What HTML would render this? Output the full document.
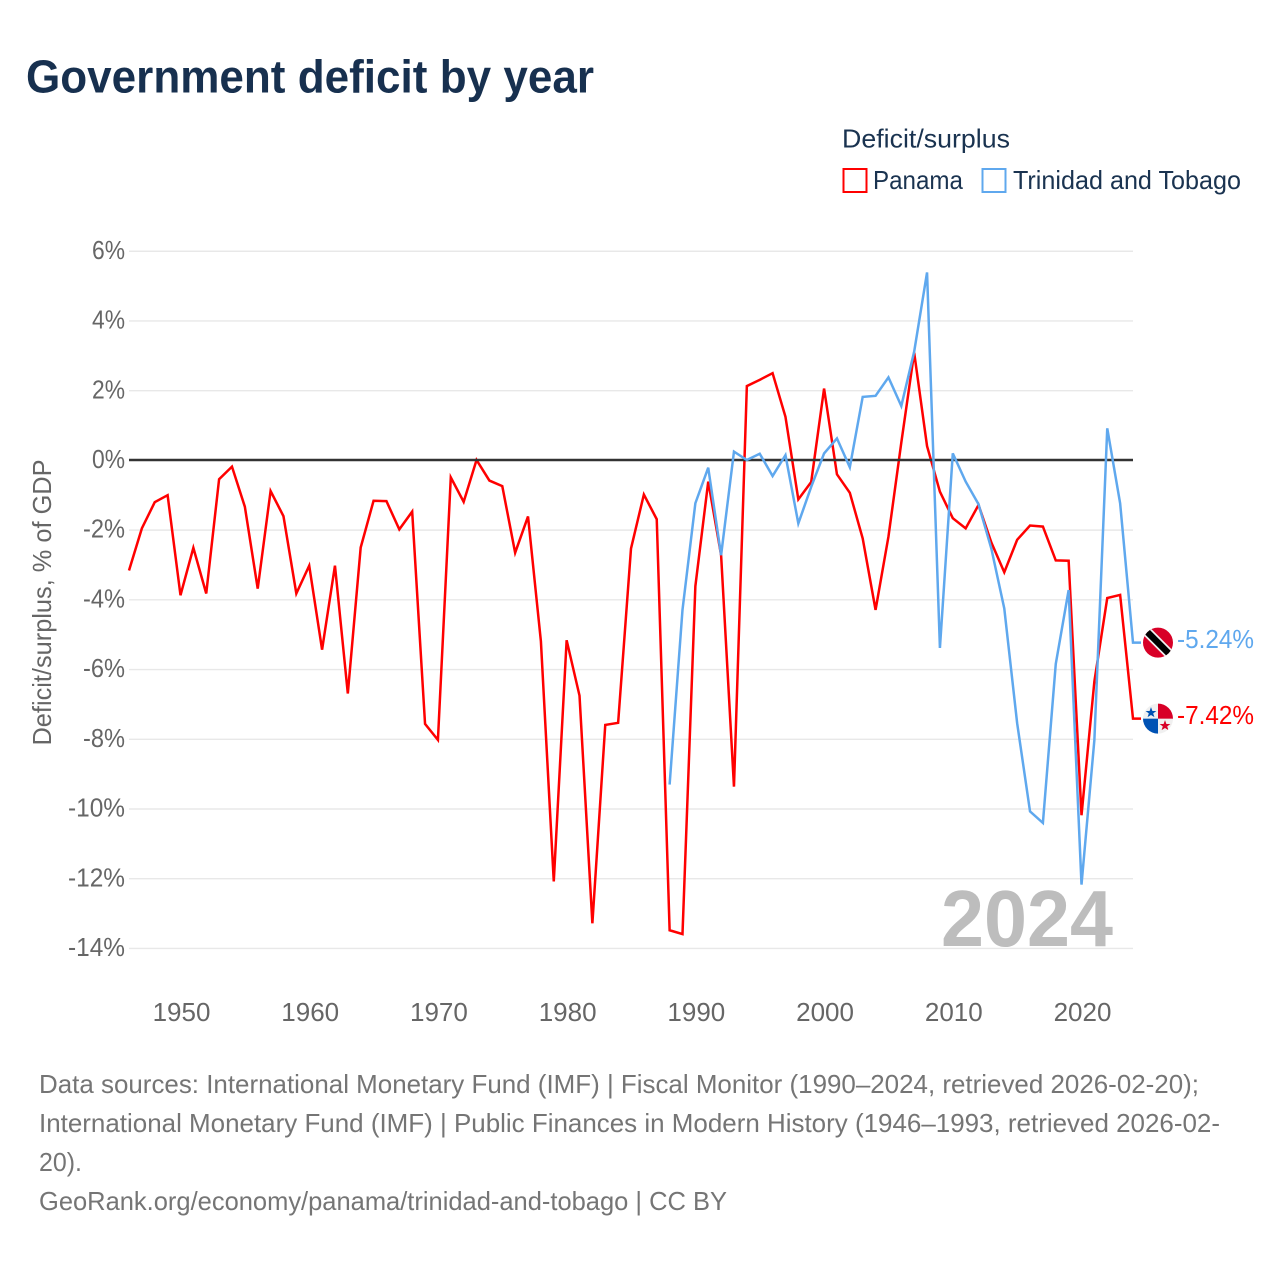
<!DOCTYPE html>
<html lang="en">
<head>
<meta charset="utf-8">
<title>Government deficit by year</title>
<style>
  html, body { margin: 0; padding: 0; background: #fff; }
  svg { display: block; font-family: "Liberation Sans", sans-serif; }
</style>
</head>
<body>
<svg id="chart" xmlns="http://www.w3.org/2000/svg" width="1280" height="1280" viewBox="0 0 1280 1280">
  <rect x="0" y="0" width="1280" height="1280" fill="#ffffff"/>
  <text x="26" y="92.5" font-size="46" font-weight="700" fill="#17304f" textLength="568" lengthAdjust="spacingAndGlyphs">Government deficit by year</text>

  <g>
    <text x="842" y="147.5" font-size="26" fill="#1a3350" textLength="168" lengthAdjust="spacingAndGlyphs">Deficit/surplus</text>
    <rect x="843.5" y="169" width="23" height="23" fill="#ffffff" stroke="#ff0000" stroke-width="2"/>
    <text x="873" y="189" font-size="26" fill="#1a3350" textLength="90" lengthAdjust="spacingAndGlyphs">Panama</text>
    <rect x="982.5" y="169" width="23" height="23" fill="#ffffff" stroke="#5fa8ee" stroke-width="2"/>
    <text x="1013" y="189" font-size="26" fill="#1a3350" textLength="228" lengthAdjust="spacingAndGlyphs">Trinidad and Tobago</text>
  </g>

  <text transform="translate(51 602.5) rotate(-90)" text-anchor="middle" font-size="26" fill="#666666" textLength="286" lengthAdjust="spacingAndGlyphs">Deficit/surplus, % of GDP</text>

  <g id="grid"></g>
  <g id="y-ticks"></g>
  <g id="x-ticks"></g>

  <text x="941" y="946" font-size="80" font-weight="700" fill="#bdbdbd" textLength="172" lengthAdjust="spacingAndGlyphs">2024</text>

  <g id="series"></g>

  <g id="flag-tt">
    <defs>
      <clipPath id="clip-tt"><circle cx="0" cy="0" r="15"/></clipPath>
      <clipPath id="clip-pa"><circle cx="0" cy="0" r="15"/></clipPath>
    </defs>
    <g clip-path="url(#clip-tt)">
      <rect x="-16" y="-16" width="32" height="32" fill="#d80027"/>
      <line x1="-14" y1="-14" x2="14" y2="14" stroke="#f0f0f0" stroke-width="10"/>
      <line x1="-14" y1="-14" x2="14" y2="14" stroke="#000000" stroke-width="6.5"/>
    </g>
  </g>
  <g id="flag-pa">
    <g clip-path="url(#clip-pa)">
      <rect x="-16" y="-16" width="32" height="32" fill="#f0f0f0"/>
      <rect x="0" y="-16" width="16" height="16" fill="#d80027"/>
      <rect x="-16" y="0" width="16" height="16" fill="#0052b4"/>
      <polygon points="-7,-11 -5.6,-7.2 -1.6,-7.2 -4.8,-4.8 -3.6,-1 -7,-3.2 -10.4,-1 -9.2,-4.8 -12.4,-7.2 -8.4,-7.2" fill="#0052b4" transform="translate(0 -0.5)"/>
      <polygon points="7,1.5 8.4,5.3 12.4,5.3 9.2,7.7 10.4,11.5 7,9.3 3.6,11.5 4.8,7.7 1.6,5.3 5.6,5.3" fill="#d80027"/>
    </g>
  </g>
  <g id="end-labels"></g>

  <g font-size="26" fill="#757575">
    <text x="39" y="1093" textLength="1160" lengthAdjust="spacingAndGlyphs">Data sources: International Monetary Fund (IMF) | Fiscal Monitor (1990–2024, retrieved 2026-02-20);</text>
    <text x="39" y="1132" textLength="1181" lengthAdjust="spacingAndGlyphs">International Monetary Fund (IMF) | Public Finances in Modern History (1946–1993, retrieved 2026-02-</text>
    <text x="39" y="1171" textLength="43" lengthAdjust="spacingAndGlyphs">20).</text>
    <text x="39" y="1210" textLength="688" lengthAdjust="spacingAndGlyphs">GeoRank.org/economy/panama/trinidad-and-tobago | CC BY</text>
  </g>
</svg>

<script>
const panamaYears = [1946,1947,1948,1949,1950,1951,1952,1953,1954,1955,1956,1957,1958,1959,1960,1961,1962,1963,1964,1965,1966,1967,1968,1969,1970,1971,1972,1973,1974,1975,1976,1977,1978,1979,1980,1981,1982,1983,1984,1985,1986,1987,1988,1989,1990,1991,1992,1993,1994,1995,1996,1997,1998,1999,2000,2001,2002,2003,2004,2005,2006,2007,2008,2009,2010,2011,2012,2013,2014,2015,2016,2017,2018,2019,2020,2021,2022,2023,2024];
const panamaValues = [-3.17,-1.96,-1.21,-1.01,-3.88,-2.52,-3.83,-0.55,-0.19,-1.34,-3.69,-0.89,-1.61,-3.83,-3.03,-5.44,-3.03,-6.70,-2.51,-1.17,-1.18,-1.99,-1.48,-7.57,-8.03,-0.50,-1.20,0.00,-0.59,-0.75,-2.66,-1.62,-5.20,-12.09,-5.17,-6.76,-13.29,-7.60,-7.54,-2.54,-0.99,-1.70,-13.49,-13.60,-3.62,-0.62,-2.73,-9.37,2.12,2.30,2.49,1.24,-1.13,-0.63,2.05,-0.41,-0.94,-2.25,-4.30,-2.20,0.50,3.08,0.40,-0.91,-1.67,-1.96,-1.29,-2.37,-3.22,-2.29,-1.88,-1.91,-2.88,-2.89,-10.19,-6.35,-3.96,-3.87,-7.42];
const trinidadYears = [1988,1989,1990,1991,1992,1993,1994,1995,1996,1997,1998,1999,2000,2001,2002,2003,2004,2005,2006,2007,2008,2009,2010,2011,2012,2013,2014,2015,2016,2017,2018,2019,2020,2021,2022,2023,2024];
const trinidadValues = [-9.31,-4.30,-1.24,-0.22,-2.73,0.24,0.00,0.18,-0.46,0.14,-1.82,-0.77,0.19,0.62,-0.21,1.81,1.84,2.37,1.55,3.11,5.38,-5.39,0.19,-0.62,-1.27,-2.55,-4.26,-7.55,-10.08,-10.41,-5.85,-3.73,-12.18,-8.03,0.91,-1.24,-5.24];
const yTickValues = [6,4,2,0,-2,-4,-6,-8,-10,-12,-14];
const yTickLabels = ["6%","4%","2%","0%","-2%","-4%","-6%","-8%","-10%","-12%","-14%"];
const xTickValues = [1950,1960,1970,1980,1990,2000,2010,2020];
const xTickLabels = ["1950","1960","1970","1980","1990","2000","2010","2020"];

const SVG_NS = "http://www.w3.org/2000/svg";
const plot = { left: 129, right: 1133, zeroY: 460, pxPerUnit: 34.86, yearMin: 1946, yearMax: 2024 };
function xScale(year) {
  return plot.left + (year - plot.yearMin) * (plot.right - plot.left) / (plot.yearMax - plot.yearMin);
}
function yScale(value) {
  return plot.zeroY - value * plot.pxPerUnit;
}
function make(tag, attrs, parent, text) {
  const el = document.createElementNS(SVG_NS, tag);
  for (const key in attrs) el.setAttribute(key, attrs[key]);
  if (text !== undefined) el.textContent = text;
  parent.appendChild(el);
  return el;
}
function tickWidth(label) {
  const digits = label.replace(/[^0-9]/g, "").length;
  return digits * 15 + 18 + (label.charAt(0) === "-" ? 9 : 0);
}

const gridGroup = document.getElementById("grid");
const yTickGroup = document.getElementById("y-ticks");
yTickValues.forEach(function (value, i) {
  const isZero = value === 0;
  if (!isZero) {
    const grid = make("line", { x1: plot.left, x2: plot.right, y1: yScale(value) + 0.4, y2: yScale(value) + 0.4, stroke: "#e8e8e8", "stroke-width": 1.4 }, gridGroup);
    
    
  }
  const label = make("text", { x: 125, y: yScale(value) + 8, "text-anchor": "end", "font-size": 26, fill: "#666666", textLength: tickWidth(yTickLabels[i]), lengthAdjust: "spacingAndGlyphs" }, yTickGroup, yTickLabels[i]);
  
  
});

const xTickGroup = document.getElementById("x-ticks");
xTickValues.forEach(function (year, i) {
  const label = make("text", { x: xScale(year) + 1, y: 1021, "text-anchor": "middle", "font-size": 26, fill: "#666666" }, xTickGroup, xTickLabels[i]);
  
  
});

const seriesGroup = document.getElementById("series");
function drawSeries(years, values, color) {
  const pts = years.map(function (year, i) {
    return xScale(year).toFixed(2) + "," + yScale(values[i]).toFixed(2);
  });
  const lastY = yScale(values[values.length - 1]);
  pts.push((plot.right + 8) + "," + lastY.toFixed(2));
  return make("polyline", { points: pts.join(" "), fill: "none", stroke: color, "stroke-width": 2.5, "stroke-linejoin": "miter", "stroke-miterlimit": 4 }, seriesGroup);
}
const panamaLine = drawSeries(panamaYears, panamaValues, "#ff0000");


const zeroLine = make("line", { x1: plot.left, x2: plot.right, y1: yScale(0), y2: yScale(0), stroke: "#333333", "stroke-width": 2.4 }, seriesGroup);


const trinidadLine = drawSeries(trinidadYears, trinidadValues, "#5fa8ee");



const panamaLast = panamaValues[panamaValues.length - 1];
const trinidadLast = trinidadValues[trinidadValues.length - 1];
document.getElementById("flag-tt").setAttribute("transform", "translate(1158 " + yScale(trinidadLast).toFixed(2) + ")");
document.getElementById("flag-pa").setAttribute("transform", "translate(1158 " + yScale(panamaLast).toFixed(2) + ")");

const endGroup = document.getElementById("end-labels");
const endPanama = make("text", { x: 1177, y: yScale(panamaLast) + 5.5, "font-size": 26, fill: "#ff0000", textLength: 77, lengthAdjust: "spacingAndGlyphs" }, endGroup, panamaLast.toFixed(2) + "%");


const endTrinidad = make("text", { x: 1177, y: yScale(trinidadLast) + 5.5, "font-size": 26, fill: "#5fa8ee", textLength: 77, lengthAdjust: "spacingAndGlyphs" }, endGroup, trinidadLast.toFixed(2) + "%");


</script>
</body>
</html>
